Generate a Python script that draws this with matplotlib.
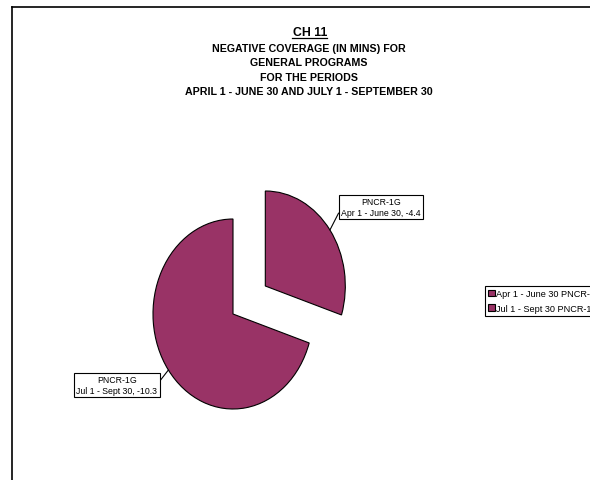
import numpy as np
import matplotlib.pyplot as plt
from matplotlib.lines import Line2D
from matplotlib.patches import Patch

plt.rcParams['font.family'] = ['Liberation Sans', 'DejaVu Sans']

# Данные
periods = ['Apr 1 - June 30', 'Jul 1 - Sept 30']
program = 'PNCR-1G'
values = [-4.4, -10.3]
explode = [0.5, 0.0]
color = '#993366'

W, H = 590, 481
fig = plt.figure(figsize=(W / 100, H / 100), dpi=100)

# Рамка
fig.add_artist(Line2D([12 / W, 1], [1 - 8 / H, 1 - 8 / H], color='black', lw=1.2))
fig.add_artist(Line2D([12 / W, 12 / W], [1 - 8 / H, 0], color='black', lw=1.2))

# Заголовок
fig.text(310 / W, 1 - 33 / H, 'CH 11', ha='center', va='center',
         fontsize=8.8, fontweight='bold')
fig.add_artist(Line2D([292 / W, 327 / W], [1 - 38.5 / H, 1 - 38.5 / H], color='black', lw=0.9))
title_lines = ['NEGATIVE COVERAGE (IN MINS) FOR', 'GENERAL PROGRAMS',
               'FOR THE PERIODS', 'APRIL 1 - JUNE 30 AND JULY 1 - SEPTEMBER 30']
for i, t in enumerate(title_lines):
    fig.text(309 / W, 1 - (49 + i * 14.3) / H, t, ha='center', va='center',
             fontsize=7.7, fontweight='bold')

# Круговая диаграмма (слегка эллиптическая)
cx, cy = 233, 315
rx, ry = 80, 95
k = 1.6
ax = fig.add_axes([(cx - k * rx) / W, (H - cy - k * ry) / H, 2 * k * rx / W, 2 * k * ry / H])
sizes = [abs(v) for v in values]
wedges, _ = ax.pie(sizes, explode=explode, startangle=90, counterclock=False,
                   colors=[color] * len(sizes),
                   wedgeprops=dict(edgecolor='black', linewidth=0.8))
ax.set_aspect('auto')
ax.set_xlim(-k, k)
ax.set_ylim(-k, k)

# Подписи с выносками
text_pos = [(381, 208), (117, 386)]
relpos = [(0, 0.45), (1, 0.55)]
for i, w in enumerate(wedges):
    mid = np.deg2rad((w.theta1 + w.theta2) / 2)
    ox, oy = w.center
    px, py = ox + np.cos(mid), oy + np.sin(mid)
    tx, ty = text_pos[i]
    ax.annotate(f'{program}\n{periods[i]}, {values[i]}', xy=(px, py), xycoords='data',
                xytext=(tx, H - ty), textcoords='figure pixels',
                ha='center', va='center', fontsize=6.3, linespacing=1.3,
                bbox=dict(boxstyle='square,pad=0.25', fc='white', ec='black', lw=0.8),
                arrowprops=dict(arrowstyle='-', lw=0.8, color='black',
                                shrinkA=0, shrinkB=0, relpos=relpos[i]))

# Легенда
handles = [Patch(facecolor=color, edgecolor='black', lw=0.8) for _ in periods]
labels = [f'{p} {program}' for p in periods]
leg = fig.legend(handles, labels, loc='upper left', bbox_to_anchor=(485 / W, 1 - 287 / H),
                 fontsize=6.6, handlelength=0.7, handleheight=0.7, handletextpad=0.2,
                 borderpad=0.35, labelspacing=0.6, borderaxespad=0,
                 fancybox=False, framealpha=1, edgecolor='black')
leg.get_frame().set_linewidth(0.8)

fig.savefig('out.png', dpi=100)
